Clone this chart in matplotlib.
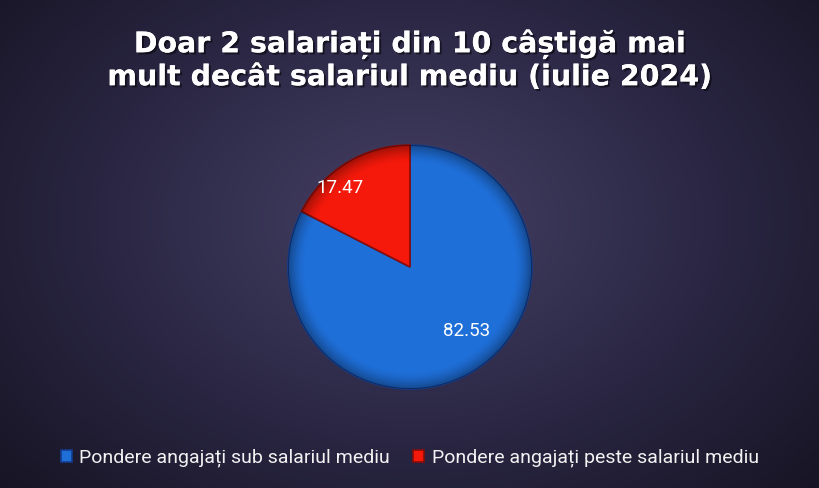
import numpy as np
import matplotlib
matplotlib.use("Agg")
import matplotlib.pyplot as plt
from matplotlib.colors import LinearSegmentedColormap
import matplotlib.patheffects as pe

title = "Doar 2 salariați din 10 câștigă mai\nmult decât salariul mediu (iulie 2024)"
categories = ["Pondere angajați sub salariul mediu", "Pondere angajați peste salariul mediu"]
values = [82.53, 17.47]
colors = ["#1f6fd9", "#f4190b"]
label_radius = [0.70, 0.86]

W, H = 820, 488
fig = plt.figure(figsize=(W / 100, H / 100), dpi=100)

# background radial gradient
bg = fig.add_axes([0, 0, 1, 1])
yy, xx = np.mgrid[0:H, 0:W]
d = np.sqrt(((xx - 410) / 560) ** 2 + ((yy - 220) / 400) ** 2)
d = np.clip(d, 0, 1)
cmap_bg = LinearSegmentedColormap.from_list("bg", ["#464164", "#2c2846", "#171424"])
bg.imshow(d, cmap=cmap_bg, vmin=0, vmax=1, aspect="auto", extent=[0, 1, 0, 1], origin="upper")
bg.set_xlim(0, 1); bg.set_ylim(0, 1)
bg.axis("off")

# pie
cx, cy, R = 410, 488 - 267, 122
half = 135
ax = fig.add_axes([(cx - half) / W, (cy - half) / H, 2 * half / W, 2 * half / H])
ax.set_aspect("equal")
ax.axis("off")
wedges, _ = ax.pie(values, colors=colors, startangle=90, counterclock=False,
                   wedgeprops=dict(edgecolor="#123d8f", linewidth=1.2))
wedges[1].set_edgecolor("#8a0c08")

# shading overlay inside pie
n = 400
gy, gx = np.mgrid[-1:1:n * 1j, -1:1:n * 1j]
rr = np.sqrt(gx ** 2 + gy ** 2)
shade = np.zeros((n, n, 4))
edge = np.clip((rr - 0.86) / 0.14, 0, 1) ** 1.5
shade[..., 3] = 0.35 * edge
for w in wedges:
    im = ax.imshow(shade, extent=[-1, 1, -1, 1], origin="lower", zorder=3)
    im.set_clip_path(w)

# value labels
for w, v, r in zip(wedges, values, label_radius):
    ang = np.deg2rad((w.theta1 + w.theta2) / 2 + 10)
    ax.text(r * np.cos(ang), r * np.sin(ang), f"{v:.2f}", color="white",
            fontsize=13.5, family="Roboto", ha="center", va="center", zorder=5)

ax.set_xlim(-half / R, half / R); ax.set_ylim(-half / R, half / R)

fig.text(0.5, 1 - 60 / H, title, ha="center", va="center", color="white",
         fontsize=20.5, fontweight="bold", family="DejaVu Sans", linespacing=1.2,
         path_effects=[pe.withSimplePatchShadow(offset=(1.5, -1.5), shadow_rgbFace="black", alpha=0.5), pe.Normal()])

leg = fig.legend(wedges, categories, loc="center", bbox_to_anchor=(0.5, 30 / H), ncol=2,
                 frameon=False, handlelength=0.55, handleheight=0.55,
                 handletextpad=0.4, columnspacing=1.2, prop=dict(family="Roboto", size=14))
for t in leg.get_texts():
    t.set_color("#f2f2f2")

fig.savefig("out.png", dpi=100)
